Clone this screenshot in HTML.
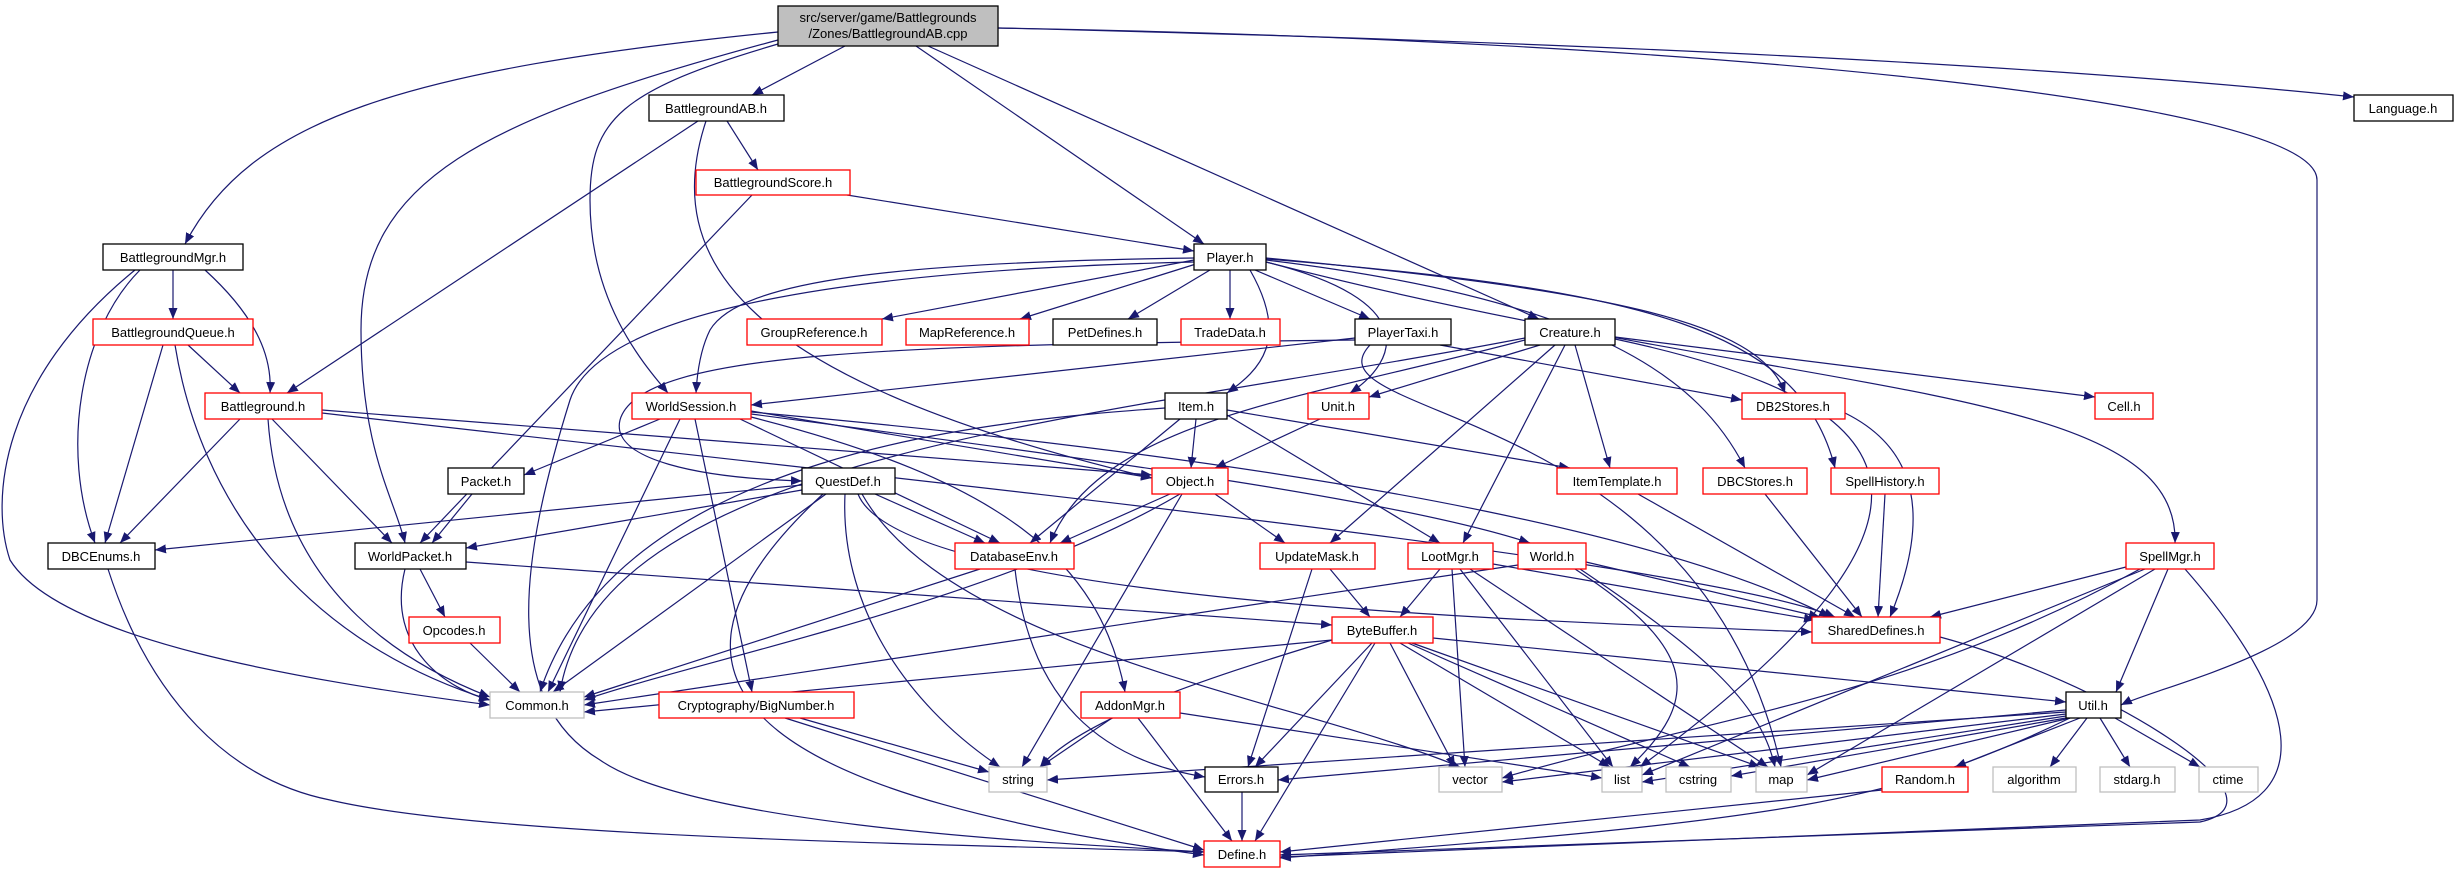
<!DOCTYPE html>
<html><head><meta charset="utf-8"><style>
html,body{margin:0;padding:0;background:#fff;}
svg{display:block;}
text{font-family:"Liberation Sans",sans-serif;font-size:13px;fill:#000;}
.e{fill:none;stroke:#191970;stroke-width:1.2;marker-end:url(#a);}
.b{fill:#fff;stroke:#000;stroke-width:1.3;}
.r{fill:#fff;stroke:#ff0000;stroke-width:1.3;}
.g{fill:#fff;stroke:#bfbfbf;stroke-width:1.3;}
</style></head><body>
<svg width="2457" height="873" viewBox="0 0 2457 873" xmlns="http://www.w3.org/2000/svg">
<defs><marker id="a" markerUnits="userSpaceOnUse" markerWidth="12" markerHeight="10" refX="11" refY="4.5" orient="auto"><path d="M0,0 L11,4.5 L0,9 z" fill="#191970"/></marker></defs>
<g>
<path class="e" d="M778,32 C400,70 250,120 185,244"/>
<path class="e" d="M845,46 L752,95"/>
<path class="e" d="M778,40 C480,120 361,180 361,330 C361,450 395,500 405,543"/>
<path class="e" d="M778,44 C620,90 590,120 590,200 C590,300 640,360 668,393"/>
<path class="e" d="M916,46 L1204,244"/>
<path class="e" d="M928,46 L1539,319"/>
<path class="e" d="M998,28 C1500,40 2000,60 2354,97"/>
<path class="e" d="M998,28 C1700,40 2317,100 2317,180 L2317,600 C2317,650 2150,690 2121,705"/>
<path class="e" d="M698,121 L287,393"/>
<path class="e" d="M727,121 L758,170"/>
<path class="e" d="M706,121 C660,260 740,380 1152,478"/>
<path class="e" d="M847,195 L1194,251"/>
<path class="e" d="M752,195 L420,543"/>
<path class="e" d="M173,270 L173,319"/>
<path class="e" d="M205,270 C260,320 272,360 270,393"/>
<path class="e" d="M140,270 C80,330 60,450 95,543"/>
<path class="e" d="M135,270 C0,380 -10,500 10,560 C60,640 300,680 490,705"/>
<path class="e" d="M188,345 L240,393"/>
<path class="e" d="M163,345 L105,543"/>
<path class="e" d="M175,345 C200,500 300,640 490,700"/>
<path class="e" d="M240,419 L120,543"/>
<path class="e" d="M272,419 L392,543"/>
<path class="e" d="M268,419 C280,600 420,670 490,697"/>
<path class="e" d="M322,410 L1152,475"/>
<path class="e" d="M322,413 C900,480 1700,560 1835,617"/>
<path class="e" d="M1194,260 L882,319"/>
<path class="e" d="M1196,264 L1020,319"/>
<path class="e" d="M1210,270 L1128,319"/>
<path class="e" d="M1230,270 L1230,319"/>
<path class="e" d="M1255,270 L1370,319"/>
<path class="e" d="M1250,270 C1290,340 1260,370 1227,393"/>
<path class="e" d="M1194,258 C900,262 740,280 710,330 C700,350 697,375 696,393"/>
<path class="e" d="M1355,340 C900,345 640,350 620,420 C610,460 700,478 802,481"/>
<path class="e" d="M1266,262 C1420,300 1400,360 1350,393"/>
<path class="e" d="M1266,258 C1600,290 1760,320 1785,393"/>
<path class="e" d="M1266,260 C1600,300 1700,380 1745,468"/>
<path class="e" d="M1266,259 C1650,290 1800,330 1835,468"/>
<path class="e" d="M1266,262 C1800,400 2180,380 2175,543"/>
<path class="e" d="M1194,262 C850,270 600,310 570,400 C520,560 500,700 600,760 C700,830 1100,845 1204,852"/>
<path class="e" d="M1355,338 L751,405"/>
<path class="e" d="M1440,345 L1742,400"/>
<path class="e" d="M1370,345 C1300,420 1700,400 1781,767"/>
<path class="e" d="M1540,345 L1369,397"/>
<path class="e" d="M1575,345 L1610,468"/>
<path class="e" d="M1565,345 L1463,543"/>
<path class="e" d="M1555,345 L1330,543"/>
<path class="e" d="M1525,340 C1300,400 1100,420 1050,543"/>
<path class="e" d="M1525,338 C1100,420 600,450 560,692"/>
<path class="e" d="M1615,337 L2095,397"/>
<path class="e" d="M1615,339 C1900,400 2000,500 1640,767"/>
<path class="e" d="M1196,419 L1191,468"/>
<path class="e" d="M1180,419 L1030,543"/>
<path class="e" d="M1227,410 L1570,468"/>
<path class="e" d="M1227,415 L1440,543"/>
<path class="e" d="M1165,408 C1000,420 620,450 540,692"/>
<path class="e" d="M660,419 L524,475"/>
<path class="e" d="M680,419 L548,692"/>
<path class="e" d="M695,419 L752,692"/>
<path class="e" d="M751,417 C1000,480 1100,560 1125,692"/>
<path class="e" d="M740,419 L1000,543"/>
<path class="e" d="M751,411 L1152,478"/>
<path class="e" d="M751,412 C1400,470 1700,550 1830,617"/>
<path class="e" d="M751,414 C1100,460 1400,500 1530,543"/>
<path class="e" d="M1320,419 L1215,468"/>
<path class="e" d="M1215,494 L1285,543"/>
<path class="e" d="M1170,494 L1060,543"/>
<path class="e" d="M1180,494 C1000,600 700,660 584,700"/>
<path class="e" d="M1182,494 L1022,767"/>
<path class="e" d="M802,485 L155,550"/>
<path class="e" d="M802,490 L466,548"/>
<path class="e" d="M875,494 L985,543"/>
<path class="e" d="M858,494 C900,600 1500,620 1812,632"/>
<path class="e" d="M845,494 C840,600 900,700 1000,767"/>
<path class="e" d="M823,494 C600,700 800,800 1204,855"/>
<path class="e" d="M862,494 C950,650 1300,700 1460,767"/>
<path class="e" d="M826,494 L553,692"/>
<path class="e" d="M472,494 L432,543"/>
<path class="e" d="M420,569 L445,617"/>
<path class="e" d="M405,569 C385,650 450,690 490,700"/>
<path class="e" d="M466,562 L1332,625"/>
<path class="e" d="M470,643 L520,692"/>
<path class="e" d="M980,569 L584,697"/>
<path class="e" d="M1015,569 C1030,700 1100,760 1205,777"/>
<path class="e" d="M1330,569 L1370,617"/>
<path class="e" d="M1312,569 L1248,767"/>
<path class="e" d="M1440,569 L1400,617"/>
<path class="e" d="M1493,564 L1815,620"/>
<path class="e" d="M1452,569 L1465,767"/>
<path class="e" d="M1460,569 L1613,767"/>
<path class="e" d="M1470,569 L1768,767"/>
<path class="e" d="M1586,562 L1820,617"/>
<path class="e" d="M1575,569 C1700,650 1700,700 1630,767"/>
<path class="e" d="M1580,569 C1700,650 1760,700 1775,767"/>
<path class="e" d="M1518,565 L584,705"/>
<path class="e" d="M1638,494 L1855,617"/>
<path class="e" d="M1765,494 L1862,617"/>
<path class="e" d="M1885,494 L1878,617"/>
<path class="e" d="M1845,413 C1920,450 1930,520 1890,617"/>
<path class="e" d="M2126,567 L1930,617"/>
<path class="e" d="M2168,569 L2116,692"/>
<path class="e" d="M2185,569 C2300,700 2320,800 2200,820 L1280,857"/>
<path class="e" d="M2140,569 C1900,700 1700,720 1502,778"/>
<path class="e" d="M2145,569 L1642,775"/>
<path class="e" d="M2155,569 L1807,775"/>
<path class="e" d="M1433,638 L2066,702"/>
<path class="e" d="M1372,643 L1255,767"/>
<path class="e" d="M1375,643 L1255,841"/>
<path class="e" d="M1390,643 L1455,767"/>
<path class="e" d="M1400,643 L1610,767"/>
<path class="e" d="M1408,643 L1690,767"/>
<path class="e" d="M1412,643 L1760,767"/>
<path class="e" d="M1332,640 C1200,680 1080,720 1040,767"/>
<path class="e" d="M1332,640 L584,712"/>
<path class="e" d="M1940,637 C2100,680 2300,800 2200,822 L1280,855"/>
<path class="e" d="M2066,712 L1047,780"/>
<path class="e" d="M2066,710 L1278,780"/>
<path class="e" d="M2066,714 L1502,782"/>
<path class="e" d="M2066,716 L1642,782"/>
<path class="e" d="M2066,718 L1731,776"/>
<path class="e" d="M2070,718 L1807,780"/>
<path class="e" d="M2080,718 L1955,767"/>
<path class="e" d="M2087,718 L2050,767"/>
<path class="e" d="M2100,718 L2130,767"/>
<path class="e" d="M2115,718 L2200,767"/>
<path class="e" d="M2070,718 C1900,800 1800,820 1280,858"/>
<path class="e" d="M1882,790 L1280,852"/>
<path class="e" d="M1242,792 L1242,841"/>
<path class="e" d="M1112,718 L1040,767"/>
<path class="e" d="M1138,718 L1232,841"/>
<path class="e" d="M1180,713 L1602,778"/>
<path class="e" d="M800,718 L989,772"/>
<path class="e" d="M785,718 L1204,850"/>
<path class="e" d="M108,569 C150,700 230,780 330,800 C500,840 1000,845 1204,852"/>
</g>
<g text-anchor="middle">
<rect x="778" y="6" width="220" height="40" fill="#bfbfbf" stroke="#000" stroke-width="1.3"/>
<text x="888" y="22">src/server/game/Battlegrounds</text>
<text x="888" y="38">/Zones/BattlegroundAB.cpp</text>

<rect class="b" x="649" y="95" width="135" height="26"/><text x="716" y="113">BattlegroundAB.h</text>
<rect class="b" x="2354" y="95" width="99" height="26"/><text x="2403" y="113">Language.h</text>
<rect class="r" x="696" y="170" width="154" height="25"/><text x="773" y="187">BattlegroundScore.h</text>
<rect class="b" x="103" y="244" width="140" height="26"/><text x="173" y="262">BattlegroundMgr.h</text>
<rect class="b" x="1194" y="244" width="72" height="26"/><text x="1230" y="262">Player.h</text>
<rect class="r" x="93" y="319" width="160" height="26"/><text x="173" y="337">BattlegroundQueue.h</text>
<rect class="r" x="747" y="319" width="135" height="26"/><text x="814" y="337">GroupReference.h</text>
<rect class="r" x="906" y="319" width="123" height="26"/><text x="967" y="337">MapReference.h</text>
<rect class="b" x="1053" y="319" width="104" height="26"/><text x="1105" y="337">PetDefines.h</text>
<rect class="r" x="1181" y="319" width="99" height="26"/><text x="1230" y="337">TradeData.h</text>
<rect class="b" x="1355" y="319" width="96" height="26"/><text x="1403" y="337">PlayerTaxi.h</text>
<rect class="b" x="1525" y="319" width="90" height="26"/><text x="1570" y="337">Creature.h</text>
<rect class="r" x="205" y="393" width="117" height="26"/><text x="263" y="411">Battleground.h</text>
<rect class="r" x="632" y="393" width="119" height="26"/><text x="691" y="411">WorldSession.h</text>
<rect class="b" x="1165" y="393" width="62" height="26"/><text x="1196" y="411">Item.h</text>
<rect class="r" x="1308" y="393" width="61" height="26"/><text x="1338" y="411">Unit.h</text>
<rect class="r" x="1742" y="393" width="103" height="26"/><text x="1793" y="411">DB2Stores.h</text>
<rect class="r" x="2095" y="393" width="58" height="26"/><text x="2124" y="411">Cell.h</text>
<rect class="b" x="448" y="468" width="76" height="26"/><text x="486" y="486">Packet.h</text>
<rect class="b" x="802" y="468" width="93" height="26"/><text x="848" y="486">QuestDef.h</text>
<rect class="r" x="1152" y="468" width="76" height="26"/><text x="1190" y="486">Object.h</text>
<rect class="r" x="1557" y="468" width="120" height="26"/><text x="1617" y="486">ItemTemplate.h</text>
<rect class="r" x="1703" y="468" width="104" height="26"/><text x="1755" y="486">DBCStores.h</text>
<rect class="r" x="1831" y="468" width="108" height="26"/><text x="1885" y="486">SpellHistory.h</text>
<rect class="b" x="48" y="543" width="107" height="26"/><text x="101" y="561">DBCEnums.h</text>
<rect class="b" x="355" y="543" width="111" height="26"/><text x="410" y="561">WorldPacket.h</text>
<rect class="r" x="955" y="543" width="119" height="26"/><text x="1014" y="561">DatabaseEnv.h</text>
<rect class="r" x="1260" y="543" width="115" height="26"/><text x="1317" y="561">UpdateMask.h</text>
<rect class="r" x="1408" y="543" width="85" height="26"/><text x="1450" y="561">LootMgr.h</text>
<rect class="r" x="1518" y="543" width="68" height="26"/><text x="1552" y="561">World.h</text>
<rect class="r" x="2126" y="543" width="88" height="26"/><text x="2170" y="561">SpellMgr.h</text>
<rect class="r" x="409" y="617" width="91" height="26"/><text x="454" y="635">Opcodes.h</text>
<rect class="r" x="1332" y="617" width="101" height="26"/><text x="1382" y="635">ByteBuffer.h</text>
<rect class="r" x="1812" y="617" width="128" height="26"/><text x="1876" y="635">SharedDefines.h</text>
<rect class="g" x="490" y="692" width="94" height="26"/><text x="537" y="710">Common.h</text>
<rect class="r" x="659" y="692" width="195" height="26"/><text x="756" y="710">Cryptography/BigNumber.h</text>
<rect class="r" x="1081" y="692" width="99" height="26"/><text x="1130" y="710">AddonMgr.h</text>
<rect class="b" x="2066" y="692" width="55" height="26"/><text x="2093" y="710">Util.h</text>
<rect class="g" x="989" y="767" width="58" height="25"/><text x="1018" y="784">string</text>
<rect class="b" x="1205" y="767" width="73" height="25"/><text x="1241" y="784">Errors.h</text>
<rect class="g" x="1439" y="767" width="63" height="25"/><text x="1470" y="784">vector</text>
<rect class="g" x="1602" y="767" width="40" height="25"/><text x="1622" y="784">list</text>
<rect class="g" x="1666" y="767" width="65" height="25"/><text x="1698" y="784">cstring</text>
<rect class="g" x="1756" y="767" width="51" height="25"/><text x="1781" y="784">map</text>
<rect class="r" x="1882" y="767" width="86" height="25"/><text x="1925" y="784">Random.h</text>
<rect class="g" x="1993" y="767" width="83" height="25"/><text x="2034" y="784">algorithm</text>
<rect class="g" x="2100" y="767" width="75" height="25"/><text x="2137" y="784">stdarg.h</text>
<rect class="g" x="2199" y="767" width="59" height="25"/><text x="2228" y="784">ctime</text>
<rect class="r" x="1204" y="841" width="76" height="26"/><text x="1242" y="859">Define.h</text>
</g>
</svg>
</body></html>
